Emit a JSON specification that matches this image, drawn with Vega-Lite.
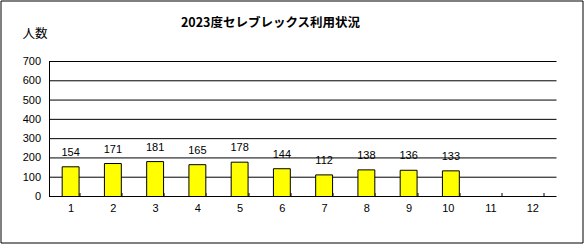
{
  "$schema": "https://vega.github.io/schema/vega-lite/v6.json",
  "autosize": "none",
  "width": 582,
  "height": 242,
  "padding": {"left": 0.5, "top": 0.5, "right": 1.5, "bottom": 1.5},
  "background": "white",
  "config": {
    "view": {"stroke": "black", "strokeWidth": 1},
    "font": "Liberation Sans",
    "axis": {"labelFont": "Liberation Sans", "labelFontSize": 11, "labelColor": "black", "domain": false, "tickColor": "black", "grid": false, "labelOverlap": false, "labelFlush": false}
  },
  "title": {
    "text": "2023度セレブレックス利用状況",
    "font": "Noto Sans CJK JP",
    "fontSize": 12.5,
    "fontWeight": "bold",
    "color": "black",
    "anchor": "middle",
    "frame": "group",
    "dx": -21,
    "baseline": "middle",
    "offset": -34.5
  },
  "datasets": {
    "usage": [
      {"month": 1, "count": 154},
      {"month": 2, "count": 171},
      {"month": 3, "count": 181},
      {"month": 4, "count": 165},
      {"month": 5, "count": 178},
      {"month": 6, "count": 144},
      {"month": 7, "count": 112},
      {"month": 8, "count": 138},
      {"month": 9, "count": 136},
      {"month": 10, "count": 133}
    ],
    "levels": [
      {"level": 0}, {"level": 100}, {"level": 200}, {"level": 300},
      {"level": 400}, {"level": 500}, {"level": 600}, {"level": 700}
    ]
  },
  "layer": [
    {
      "data": {"name": "levels"},
      "mark": {"type": "rule", "color": "black", "strokeWidth": 1},
      "encoding": {
        "y": {"field": "level", "type": "quantitative"},
        "x": {"datum": 1, "type": "ordinal", "bandPosition": -0.75},
        "x2": {"datum": 12, "bandPosition": 1.75}
      }
    },
    {
      "data": {"name": "levels"},
      "mark": {"type": "rule", "color": "black", "strokeWidth": 1},
      "encoding": {
        "x": {"datum": 1, "type": "ordinal", "bandPosition": -0.75},
        "y": {"datum": 0, "type": "quantitative"},
        "y2": {"datum": 700}
      }
    },
    {
      "data": {"name": "usage"},
      "mark": {"type": "bar", "fill": "#FFFF00", "stroke": "black", "strokeWidth": 1},
      "encoding": {
        "x": {
          "field": "month", "type": "ordinal",
          "scale": {"domain": [1,2,3,4,5,6,7,8,9,10,11,12], "range": [49, 556], "paddingInner": 0.6, "paddingOuter": 0.3, "round": false},
          "axis": {"title": null, "labelAngle": 0, "tickBand": "extent", "labelOffset": 3, "tickSize": -4, "labelPadding": 16, "offset": -46, "labelOverlap": false}
        },
        "y": {
          "field": "count", "type": "quantitative",
          "scale": {"domain": [-238.5, 1016.3], "nice": false, "zero": false},
          "axis": {
            "values": [0,100,200,300,400,500,600,700],
            "tickCount": 20,
            "labelOverlap": false, "labelFlush": false, "labelBound": false,
            "ticks": false, "labelPadding": 9, "offset": -49,
            "title": "人数", "titleAngle": 0, "titleFont": "Noto Sans CJK JP", "titleFontSize": 12.5, "titleFontWeight": "normal", "titleColor": "black",
            "titleAlign": "center", "titleBaseline": "middle", "titleX": -15, "titleY": 33
          }
        },
        "y2": {"datum": 0}
      }
    },
    {
      "data": {"name": "usage"},
      "mark": {"type": "text", "fontSize": 11, "font": "Liberation Sans", "color": "black", "baseline": "middle", "dy": -14},
      "encoding": {
        "x": {"field": "month", "type": "ordinal"},
        "y": {"field": "count", "type": "quantitative"},
        "text": {"field": "count"}
      }
    }
  ]
}
